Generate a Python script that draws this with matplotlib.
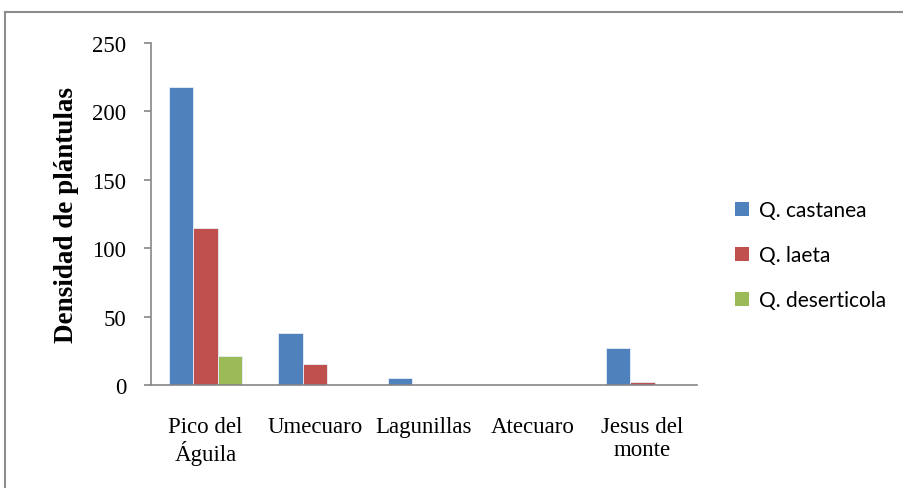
import numpy as np
import matplotlib.pyplot as plt
from matplotlib.lines import Line2D
from matplotlib.patches import Patch

# Densidad de plántulas por sitio y especie
sitios = ["Pico del\nÁguila", "Umecuaro", "Lagunillas", "Atecuaro", "Jesus del\nmonte"]
especies = ["Q. castanea", "Q. laeta", "Q. deserticola"]
castanea = [218, 38, 5, 0, 27]
laeta = [115, 15, 0, 0, 2]
deserticola = [21, 0, 0, 0, 0]
colores = ["#4F81BD", "#C0504D", "#9BBB59"]
yticks = [0, 50, 100, 150, 200, 250]

fig = plt.figure(figsize=(9.04, 4.89), dpi=100)
ax = fig.add_axes([151 / 904, 1 - 386 / 489, 546 / 904, 342 / 489])

x = np.arange(len(sitios))
w = 1 / 4.5
for i, (vals, c) in enumerate(zip([castanea, laeta, deserticola], colores)):
    ax.bar(x + (i - 1) * w, vals, width=w, color=c, edgecolor="#e8eef8",
           linewidth=0.6, label=especies[i])

ax.set_xlim(-0.5, len(sitios) - 0.5)
ax.set_ylim(0, 250)
ax.set_yticks(yticks)
ax.set_xticks(x)
ax.set_xticklabels(sitios, fontfamily="Liberation Serif", fontsize=16.5,
                   linespacing=1.15)
for t in ax.get_yticklabels():
    t.set_fontfamily("Liberation Serif")
    t.set_fontsize(16.5)

for s in ["top", "right"]:
    ax.spines[s].set_visible(False)
for s in ["left", "bottom"]:
    ax.spines[s].set_color("#868686")
    ax.spines[s].set_linewidth(1.2)
ax.tick_params(axis="y", direction="out", length=5, width=1.2, color="#868686",
               pad=13)
ax.tick_params(axis="x", length=0, pad=22)

ax.set_ylabel("Densidad de plántulas", fontfamily="Liberation Serif",
              fontsize=19.5, fontweight="bold", labelpad=9)

handles = [Patch(facecolor=c, edgecolor="none") for c in colores]
fig.legend(handles, especies, loc="upper left", bbox_to_anchor=(727 / 904, 1 - 193 / 489),
           frameon=False, prop={"family": "Lato", "size": 15},
           handlelength=0.65, handleheight=0.65, handletextpad=0.5,
           labelspacing=1.2, borderaxespad=0)

# marco exterior
fig.add_artist(Line2D([5 / 904, 903 / 904], [1 - 13 / 489, 1 - 13 / 489],
                      color="#8c8c8c", linewidth=1.5))
fig.add_artist(Line2D([5 / 904, 5 / 904], [1 - 13 / 489, 0],
                      color="#8c8c8c", linewidth=1.5))

fig.savefig("out.png", dpi=100)
